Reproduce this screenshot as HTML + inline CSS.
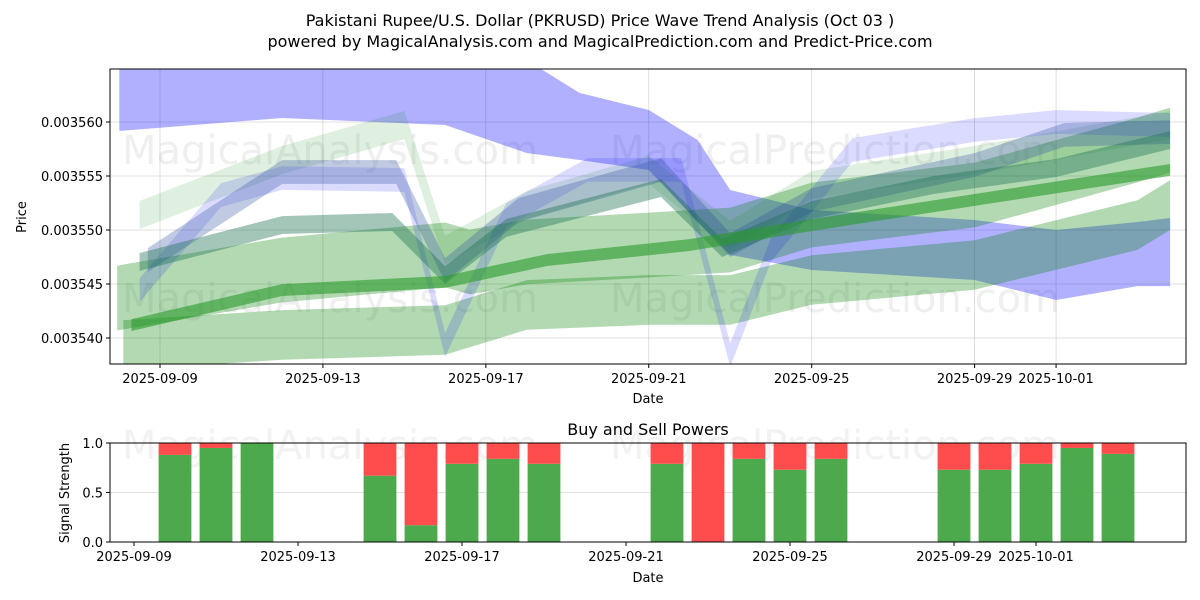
<!DOCTYPE html>
<html><head><meta charset="utf-8">
<style>
html,body{margin:0;padding:0;background:#fff;}
svg{display:block;font-family:"DejaVu Sans","Liberation Sans",sans-serif;}
</style></head>
<body>
<svg id="chart" width="1200" height="600" viewBox="0 0 1200 600" xmlns="http://www.w3.org/2000/svg">
<defs>
<clipPath id="clipTop"><rect x="110" y="69" width="1076" height="295"/></clipPath>
</defs>
<text x="600" y="26" text-anchor="middle" font-size="16" fill="#000">Pakistani Rupee/U.S. Dollar (PKRUSD) Price Wave Trend Analysis (Oct 03 )</text>
<text x="600" y="47" text-anchor="middle" font-size="16" fill="#000">powered by MagicalAnalysis.com and MagicalPrediction.com and Predict-Price.com</text>
<g id="topPanel"></g>
<g id="bottomPanel"></g>
</svg>
<script>
// ---- Price panel data (dates as day offsets from 2025-09-09) ----
const topTickDays = [0, 4, 8, 12, 16, 20, 22];
const topTickLabels = ["2025-09-09","2025-09-13","2025-09-17","2025-09-21","2025-09-25","2025-09-29","2025-10-01"];
const yTickValues = [0.003540, 0.003545, 0.003550, 0.003555, 0.003560];
const yTickLabels = ["0.003540","0.003545","0.003550","0.003555","0.003560"];

// Main blue band: upper and lower price edges
const blueDays = [-1, 3, 7, 9, 10.3, 12, 13.2, 14, 16, 20, 22, 24, 24.8];
const blueHi = [0.00356667,0.00356759,0.00356667,0.00356574,0.00356269,0.00356111,0.00355833,0.00355370,0.00355185,0.00355093,0.00355000,0.00355074,0.00355111];
const blueLo = [0.00355917,0.00356037,0.00355972,0.00355713,0.00355648,0.00355556,0.00355074,0.00354769,0.00354630,0.00354537,0.00354352,0.00354481,0.00354481];

// Wave centre lines
const g1Days = [-1.05, 3, 7, 7.6, 9, 12, 14, 16, 20, 24, 24.8];
const g1Vals = [0.00354370,0.00354630,0.00354769,0.00354704,0.00354796,0.00354861,0.00354907,0.00355139,0.00355324,0.00355741,0.00355833];
const g2Days = [-0.9, 3, 7, 9, 12, 14, 16, 20, 24, 24.8];
const g2Vals = [0.00353935,0.00354028,0.00354074,0.00354306,0.00354352,0.00354352,0.00354537,0.00354676,0.00355046,0.00355231];
const g3Days = [-0.7, 3, 7, 9.5, 13, 16, 20, 24.8];
const g3Vals = [0.00354120,0.00354444,0.00354519,0.00354722,0.00354861,0.00355046,0.00355278,0.00355556];
const g5Days = [-0.5, 3, 5.7, 7, 8.5, 12.3, 13.8, 16, 19, 22, 24.8];
const g5Vals = [0.00354704,0.00355046,0.00355074,0.00354583,0.00355019,0.00355389,0.00354833,0.00355185,0.00355417,0.00355574,0.00355833];
const b2Days = [-0.3, 3, 5.8, 7, 8.8, 12.3, 14, 16, 20, 22.2, 24.8];
const b2Vals = [0.00354722,0.00355537,0.00355537,0.00354630,0.00355185,0.00355556,0.00354861,0.00355278,0.00355602,0.00355880,0.00355907];
const b3Days = [-0.5, 1.5, 3, 6, 7, 8.5, 10.5, 12.8, 14, 15, 17, 20, 22, 24.8];
const b3Vals = [0.00354444,0.00355324,0.00355481,0.00355463,0.00353935,0.00355139,0.00355556,0.00355556,0.00353843,0.00354815,0.00355741,0.00355926,0.00356000,0.00355972];
const g6Days = [-0.5, 3, 6, 7, 9, 12, 14, 16, 20, 24.8];
const g6Vals = [0.00355139,0.00355648,0.00355972,0.00354815,0.00355231,0.00355556,0.00354954,0.00355417,0.00355648,0.00355972];

// ---- Signal panel data ----
const barDays = [1,2,3,6,7,8,9,10,13,14,15,16,17,20,21,22,23,24];
const buyVals = [0.88,0.95,1.0,0.67,0.17,0.79,0.84,0.79,0.79,0.0,0.84,0.73,0.84,0.73,0.73,0.79,0.95,0.89];
const botTickDays = [0, 4, 8, 12, 16, 20, 22];
const botTickLabels = ["2025-09-09","2025-09-13","2025-09-17","2025-09-21","2025-09-25","2025-09-29","2025-10-01"];
const sigTicks = [0, 0.5, 1.0];
const sigTickLabels = ["0.0","0.5","1.0"];

const NS = "http://www.w3.org/2000/svg";
function mk(tag, attrs, parent){ const e=document.createElementNS(NS,tag); for(const k in attrs) e.setAttribute(k,attrs[k]); parent.appendChild(e); return e; }

const TL=110, TR=1186, TT=69, TB=364;
const xTop = d => 160 + d*40.73;
const yTop = v => 122 - (v-0.003560)/1e-6*10.8;
const BL=110, BR=1186, BT=443, BB=542;
const xBot = d => 134 + d*41.0;
const yBot = v => BB - v*(BB-BT);

const topG = document.getElementById('topPanel');
const botG = document.getElementById('bottomPanel');

topTickDays.forEach((d,i)=>{
  const gl = mk('line',{x1:xTop(d),x2:xTop(d),y1:TT,y2:TB,stroke:'#b0b0b0','stroke-width':0.8,'stroke-opacity':0.5},topG);
  
  
});
yTickValues.forEach(v=>{
  const gl = mk('line',{x1:TL,x2:TR,y1:yTop(v),y2:yTop(v),stroke:'#b0b0b0','stroke-width':0.8,'stroke-opacity':0.5},topG);
  
  
});

[[330,150,'MagicalAnalysis.com'],[835,150,'MagicalPrediction.com'],[330,298,'MagicalAnalysis.com'],[835,298,'MagicalPrediction.com']].forEach(w=>{
  const t = mk('text',{x:w[0],y:w[1]+14,'text-anchor':'middle','font-size':40,fill:'#808080','fill-opacity':0.13},topG);
  t.textContent=w[2];
  
  
});

const bands = mk('g',{'clip-path':'url(#clipTop)'},topG);



function bandPoly(days, hi, lo, fill, op, name){
  const pts=[];
  days.forEach((d,i)=>pts.push(xTop(d).toFixed(1)+','+yTop(hi[i]).toFixed(1)));
  for(let i=days.length-1;i>=0;i--) pts.push(xTop(days[i]).toFixed(1)+','+yTop(lo[i]).toFixed(1));
  const p = mk('polygon',{points:pts.join(' '),fill:fill,'fill-opacity':op,'stroke-linejoin':'round'},bands);
  
  
}
function wave(days, vals, hw, fill, op, name){
  bandPoly(days, vals.map(v=>v+hw), vals.map(v=>v-hw), fill, op, name);
}
bandPoly(blueDays, blueHi, blueLo, '#0000ff', 0.31, 'blue-wave-band');
wave(g2Days, g2Vals, 2.3e-6, '#008000', 0.3, 'green-lower-wave');
wave(g1Days, g1Vals, 3.0e-6, '#008000', 0.3, 'green-upper-wave');
wave(g6Days, g6Vals, 1.3e-6, '#008000', 0.12, 'green-light-wave');
wave(b3Days, b3Vals, 1.1e-6, '#0000ff', 0.14, 'blue-light-wave');
wave(b2Days, b2Vals, 1.1e-6, '#3050a0', 0.3, 'blue-gray-wave');
wave(g5Days, g5Vals, 0.83e-6, '#1a7050', 0.4, 'teal-wave');
wave(g3Days, g3Vals, 0.55e-6, '#2a9a2a', 0.6, 'green-trend-line');

const fr = mk('rect',{x:TL,y:TT,width:TR-TL,height:TB-TT,fill:'none',stroke:'#000','stroke-width':1},topG);


topTickDays.forEach((d,i)=>{
  mk('line',{x1:xTop(d),x2:xTop(d),y1:TB,y2:TB+4,stroke:'#000'},topG);
  const t = mk('text',{x:xTop(d),y:TB+19,'text-anchor':'middle','font-size':13},topG);
  t.textContent = topTickLabels[i];
  
  
});
yTickValues.forEach((v,i)=>{
  mk('line',{x1:TL-4,x2:TL,y1:yTop(v),y2:yTop(v),stroke:'#000'},topG);
  const t = mk('text',{x:TL-7,y:yTop(v)+5,'text-anchor':'end','font-size':13},topG);
  t.textContent = yTickLabels[i];
  
  
});
let tt = mk('text',{x:648,y:403,'text-anchor':'middle','font-size':13},topG);
tt.textContent='Date';


tt = mk('text',{x:26,y:217,'text-anchor':'middle','font-size':13,transform:'rotate(-90 26 217)'},topG);
tt.textContent='Price';



tt = mk('text',{x:648,y:435,'text-anchor':'middle','font-size':16},botG);
tt.textContent='Buy and Sell Powers';


sigTicks.forEach(v=>{
  const gl = mk('line',{x1:BL,x2:BR,y1:yBot(v),y2:yBot(v),stroke:'#b0b0b0','stroke-width':0.8,'stroke-opacity':0.5},botG);
  
  
});
[[330,'MagicalAnalysis.com'],[835,'MagicalPrediction.com']].forEach(w=>{
  const wm = mk('text',{x:w[0],y:459,'text-anchor':'middle','font-size':40,fill:'#808080','fill-opacity':0.1},botG);
  wm.textContent=w[1];
  
  
});
barDays.forEach((d,i)=>{
  const x = xBot(d)-16.4, w=32.8;
  const b = buyVals[i];
  const g = mk('rect',{x:x,y:yBot(b),width:w,height:yBot(0)-yBot(b),fill:'#4caa4c'},botG);
  
  
  const r = mk('rect',{x:x,y:yBot(1),width:w,height:yBot(b)-yBot(1),fill:'#ff4c4c'},botG);
  
  
});
const fr2 = mk('rect',{x:BL,y:BT,width:BR-BL,height:BB-BT,fill:'none',stroke:'#000','stroke-width':1},botG);


botTickDays.forEach((d,i)=>{
  mk('line',{x1:xBot(d),x2:xBot(d),y1:BB,y2:BB+4,stroke:'#000'},botG);
  const tl = mk('text',{x:xBot(d),y:BB+19,'text-anchor':'middle','font-size':13},botG);
  tl.textContent = botTickLabels[i];
  
  
});
sigTicks.forEach((v,i)=>{
  mk('line',{x1:BL-4,x2:BL,y1:yBot(v),y2:yBot(v),stroke:'#000'},botG);
  const tl = mk('text',{x:BL-7,y:yBot(v)+5,'text-anchor':'end','font-size':13},botG);
  tl.textContent = sigTickLabels[i];
  
  
});
tt = mk('text',{x:648,y:582,'text-anchor':'middle','font-size':13},botG);
tt.textContent='Date';


tt = mk('text',{x:69,y:493,'text-anchor':'middle','font-size':13,transform:'rotate(-90 69 493)'},botG);
tt.textContent='Signal Strength';


</script>
</body></html>
